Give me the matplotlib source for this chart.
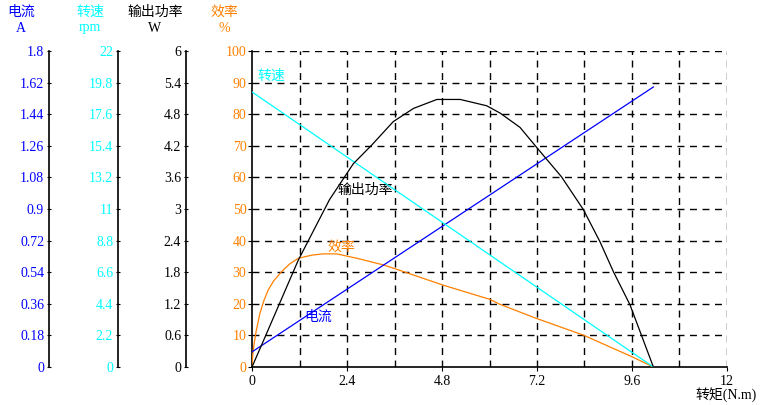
import matplotlib
matplotlib.use("Agg")
import matplotlib.pyplot as plt
import numpy as np

plt.rcParams['font.family'] = ['Liberation Serif', 'Noto Sans CJK SC']

# data (torque in N.m)
power_t = [0, 0.33, 1.17, 1.96, 2.56, 3.02, 3.57, 4.08, 4.67, 5.26, 5.93, 6.27, 6.77,
           7.28, 7.82, 8.37, 8.79, 9.13, 9.55, 10.14]
power_w = [0, 0.57, 2.03, 3.18, 3.86, 4.21, 4.66, 4.91, 5.08, 5.08, 4.96, 4.82, 4.55,
           4.09, 3.61, 2.99, 2.38, 1.81, 1.18, 0]

eff_t = [0, 0.02, 0.05, 0.1, 0.2, 0.3, 0.41, 0.55, 0.75, 0.95, 1.17, 1.51, 1.8, 2.14,
         2.65, 3.32, 3.66, 4.83, 6.01, 6.27, 7.18, 8.37, 9.59, 10.14]
eff_pct = [0, 4.0, 7.0, 11.0, 17.0, 21.0, 24.4, 27.3, 30.2, 32.6, 34.4, 35.4, 35.8,
           35.8, 34.4, 32.3, 30.9, 25.9, 21.4, 19.8, 15.4, 10.1, 3.3, 0]

speed_t = [0, 10.14]
speed_rpm = [19.15, 0]

current_t = [0, 10.14]
current_a = [0.086, 1.595]

torque_ticks = [0, 2.4, 4.8, 7.2, 9.6, 12]
current_ticks = [0, 0.18, 0.36, 0.54, 0.72, 0.9, 1.08, 1.26, 1.44, 1.62, 1.8]
speed_ticks = [0, 2.2, 4.4, 6.6, 8.8, 11, 13.2, 15.4, 17.6, 19.8, 22]
power_ticks = [0, 0.6, 1.2, 1.8, 2.4, 3, 3.6, 4.2, 4.8, 5.4, 6]
eff_ticks = list(range(0, 101, 10))

BLUE = '#0000ff'
CYAN = '#00ffff'
ORANGE = '#ff8000'
CJK = ['Noto Sans CJK SC', 'DejaVu Sans']

W, H = 763, 405
fig = plt.figure(figsize=(W / 100, H / 100), dpi=100)
x0, x1, y0, y1 = 252, 727, 367, 51
ax = fig.add_axes([x0 / W, (H - y0) / H, (x1 - x0) / W, (y0 - y1) / H])
ax.set_xlim(0, 12)
ax.set_ylim(0, 100)
ax.spines['top'].set_visible(False)
ax.spines['right'].set_visible(False)
ax.set_xticks(torque_ticks)
ax.set_xticklabels(['%g' % t for t in torque_ticks])
ax.set_yticks(eff_ticks)
ax.tick_params(axis='y', colors=ORANGE, labelsize=10, length=3, pad=1)
ax.tick_params(axis='y', color='black')
ax.tick_params(axis='x', colors='black', labelsize=10, length=3, pad=3)
for sp in ['left', 'bottom']:
    ax.spines[sp].set_color('black')
    ax.spines[sp].set_linewidth(1.2)
    ax.spines[sp].set_zorder(4)

# dashed grid (not at the solid axes)
dash = (0, (5, 4))
for gx in np.arange(1.2, 12.01, 1.2):
    ax.axvline(gx, color='black', linestyle=dash, lw=1, zorder=1)
for gy in range(10, 101, 10):
    ax.axhline(gy, color='black', linestyle=dash, lw=1, zorder=1)

ax.plot(eff_t, eff_pct, color=ORANGE, lw=0.9, zorder=5)

# extra left axes
def extra_axis(px, lim, ticks, color):
    par = ax.twinx()
    par.set_ylim(0, lim)
    par.spines['left'].set_position(('axes', (px - x0) / (x1 - x0)))
    par.spines['left'].set_visible(True)
    par.spines['left'].set_linewidth(1.2)
    for sp in ['right', 'top', 'bottom']:
        par.spines[sp].set_visible(False)
    par.yaxis.set_ticks_position('left')
    par.yaxis.set_label_position('left')
    par.set_yticks(ticks)
    par.set_yticklabels(['%g' % t for t in ticks])
    par.tick_params(axis='y', colors=color, labelsize=10, length=3, direction='inout', pad=2)
    par.tick_params(axis='y', color='black')
    return par

ax_cur = extra_axis(49, 1.8, current_ticks, BLUE)
ax_spd = extra_axis(118, 22, speed_ticks, CYAN)
ax_pow = extra_axis(186, 6, power_ticks, 'black')

ax_spd.plot(speed_t, speed_rpm, color=CYAN, lw=0.9)
ax_cur.plot(current_t, current_a, color=BLUE, lw=0.9)
ax_pow.plot(power_t, power_w, color='black', lw=0.9)

# curve labels
ax.text(0.15, 92, '转速', color=CYAN, fontsize=10, family=CJK, va='center', zorder=6)
ax.text(2.15, 56, '输出功率', color='black', fontsize=10, family=CJK, va='center', zorder=6)
ax.text(1.92, 38, '效率', color=ORANGE, fontsize=10, family=CJK, va='center', zorder=6)
ax.text(1.31, 15.8, '电流', color=BLUE, fontsize=10, family=CJK, va='center', zorder=6)

# axis headers
heads = [(21, '电流', 'A', BLUE), (90, '转速', 'rpm', CYAN),
         (155, '输出功率', 'W', 'black'), (224, '效率', '%', ORANGE)]
for cx, name, unit, col in heads:
    fig.text(cx / W, 1 - 12 / H, name, color=col, fontsize=10, family=CJK,
             ha='center', va='center')
    fig.text(cx / W, 1 - 28 / H, unit, color=col, fontsize=10, ha='center', va='center')

fig.text(726 / W, 1 - 395 / H, '转矩(N.m)', color='black', fontsize=10,
         family=['Liberation Serif', 'Noto Sans CJK SC'], ha='center', va='center')

fig.savefig('out.png', dpi=100)
